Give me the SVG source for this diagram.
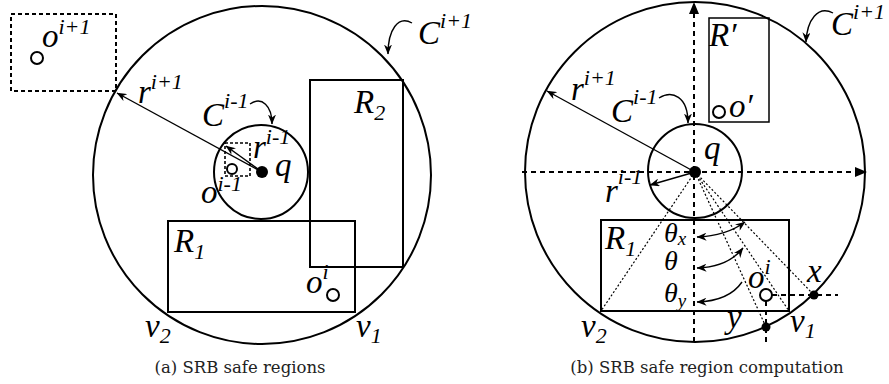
<svg xmlns="http://www.w3.org/2000/svg" width="889" height="384" viewBox="0 0 889 384">
<style>
.s{fill:none;stroke:#000;stroke-width:2}
.d{fill:none;stroke:#000;stroke-width:2;stroke-dasharray:4,3}
.ax{fill:none;stroke:#000;stroke-width:2;stroke-dasharray:5,4}
.dt{fill:none;stroke:#000;stroke-width:1.2;stroke-dasharray:2,2}
.a{fill:none;stroke:#000;stroke-width:1.4}
.p{fill:#fff;stroke:#000;stroke-width:2}
.f{fill:#000}
.l{font-family:"Liberation Serif",serif;font-style:italic;font-size:33px;fill:#000}
.th{font-size:28px}
.sm{font-size:22px}
.ss{font-size:19px}
.cap{font-family:"DejaVu Serif",serif;font-size:16.5px;fill:#222;text-anchor:middle}
</style>
<defs>
<marker id="ah" viewBox="0 0 10 8" refX="9.5" refY="4" markerWidth="10" markerHeight="8" markerUnits="userSpaceOnUse" orient="auto-start-reverse"><path d="M0,0 L10,4 L0,8 L3,4 Z" fill="#000"/></marker>
<marker id="axh" viewBox="0 0 12 10" refX="11" refY="5" markerWidth="12" markerHeight="10" markerUnits="userSpaceOnUse" orient="auto"><path d="M0,0 L12,5 L0,10 Z" fill="#000"/></marker>
</defs>

<!-- (a) -->
<g id="a-Cip1"><circle class="s" cx="262" cy="175" r="169"/></g>
<g id="a-Cim1"><circle class="s" cx="261" cy="172" r="47"/></g>
<g id="a-oip1-region"><rect class="d" x="11" y="14" width="105" height="77"/><circle class="p" cx="37" cy="58" r="6"/></g>
<g id="a-oim1-region"><rect class="d" style="stroke-width:1.6;stroke-dasharray:3,2" x="225" y="143" width="25" height="33"/><circle class="p" cx="232" cy="169" r="5"/></g>
<g id="a-R2"><rect class="s" x="310" y="80" width="93" height="187"/></g>
<g id="a-R1"><rect class="s" x="168" y="221" width="187" height="91"/></g>
<g id="a-oi"><circle class="p" cx="333" cy="295" r="6"/></g>
<g id="a-connectors">
<line class="a" x1="262" y1="172" x2="117" y2="93" marker-end="url(#ah)"/>
<line class="a" x1="262" y1="172" x2="226" y2="146" marker-end="url(#ah)"/>
<path class="a" d="M250,104 C262,96 272,106 272,124" marker-end="url(#ah)"/>
<path class="a" d="M412,23 C398,15 388,30 388,54" marker-end="url(#ah)"/>
</g>
<g id="a-q"><circle class="f" cx="262" cy="172" r="6"/></g>
<g id="a-labels">
<text class="l" x="42" y="47">o<tspan class="sm" dy="-13">i+1</tspan></text>
<text class="l" x="138" y="103">r<tspan class="sm" dy="-14">i+1</tspan></text>
<text class="l" x="202" y="126">C<tspan class="sm" dy="-18">i-1</tspan></text>
<text class="l" x="418" y="44">C<tspan class="sm" dy="-16">i+1</tspan></text>
<text class="l" x="253" y="158">r<tspan class="sm" dy="-14">i-1</tspan></text>
<text class="l" x="275" y="176">q</text>
<text class="l" x="201" y="203">o<tspan class="sm" dy="-12">i-1</tspan></text>
<text class="l" x="354" y="113">R<tspan class="sm" dy="7">2</tspan></text>
<text class="l" x="174" y="252">R<tspan class="sm" dy="7">1</tspan></text>
<text class="l" x="306" y="293">o<tspan class="sm" dy="-14">i</tspan></text>
<text class="l" x="145" y="337">v<tspan class="sm" dy="6">2</tspan></text>
<text class="l" x="356" y="337">v<tspan class="sm" dy="6">1</tspan></text>
</g>
<text class="cap" x="240" y="373">(a)  SRB safe regions</text>

<!-- (b) -->
<g id="b-Cip1"><circle class="s" cx="695" cy="172" r="170"/></g>
<g id="b-Cim1"><circle class="s" cx="695" cy="171" r="47"/></g>
<g id="b-axes">
<line class="ax" x1="522" y1="172" x2="866" y2="172" marker-end="url(#axh)"/>
<line class="ax" x1="694" y1="342" x2="694" y2="3" marker-end="url(#axh)"/>
</g>
<g id="b-Rp"><rect class="s" style="stroke-width:1.5" x="709" y="18" width="60" height="104"/><circle class="p" cx="719" cy="112" r="6"/></g>
<g id="b-R1"><rect class="s" x="601" y="220" width="188" height="91"/></g>
<g id="b-connectors">
<line class="dt" x1="695" y1="172" x2="601" y2="311"/>
<line class="dt" x1="695" y1="172" x2="766" y2="327"/>
<line class="dt" x1="695" y1="172" x2="789" y2="311"/>
<line class="dt" x1="695" y1="172" x2="814" y2="295"/>
<line class="ax" x1="772" y1="295" x2="838" y2="295"/>
<line class="ax" x1="766" y1="301" x2="766" y2="342"/>
<line class="a" x1="695" y1="172" x2="547" y2="91" marker-end="url(#ah)"/>
<line class="a" x1="695" y1="172" x2="650" y2="185" marker-end="url(#ah)"/>
<path class="a" d="M659,98 C672,90 688,96 688,123" marker-end="url(#ah)"/>
<path class="a" d="M833,13 C818,5 807,20 806,42" marker-end="url(#ah)"/>
<path class="a" d="M745,222 Q726,236 697,237" marker-start="url(#ah)" marker-end="url(#ah)"/>
<path class="a" d="M743,248 Q728,267 697,268" marker-start="url(#ah)" marker-end="url(#ah)"/>
<path class="a" d="M742,282 Q729,301 697,302" marker-end="url(#ah)"/>
</g>
<g id="b-oi"><circle class="p" cx="766" cy="295" r="6"/></g>
<g id="b-x"><circle class="f" cx="814" cy="295" r="4.5"/></g>
<g id="b-y"><circle class="f" cx="766" cy="327" r="4.5"/></g>
<g id="b-q"><circle class="f" cx="695" cy="172" r="6"/></g>
<g id="b-labels">
<text class="l" x="571" y="100">r<tspan class="sm" dy="-15">i+1</tspan></text>
<text class="l" x="611" y="122">C<tspan class="sm" dy="-18">i-1</tspan></text>
<text class="l" x="831" y="35">C<tspan class="sm" dy="-16">i+1</tspan></text>
<text class="l" x="709" y="46">R′</text>
<text class="l" x="729" y="117">o′</text>
<text class="l" x="704" y="159">q</text>
<text class="l" x="605" y="202">r<tspan class="sm" dy="-18">i-1</tspan></text>
<text class="l" x="605" y="249">R<tspan class="sm" dy="7">1</tspan></text>
<text class="l th" x="664" y="242">θ<tspan class="ss" dy="3">x</tspan></text>
<text class="l th" x="664" y="270">θ</text>
<text class="l th" x="664" y="302">θ<tspan class="ss" dy="5">y</tspan></text>
<text class="l" x="748" y="288">o<tspan class="sm" dy="-14">i</tspan></text>
<text class="l" x="807" y="282">x</text>
<text class="l" x="727" y="328">y</text>
<text class="l" x="790" y="332">v<tspan class="sm" dy="6">1</tspan></text>
<text class="l" x="581" y="337">v<tspan class="sm" dy="6">2</tspan></text>
</g>
<text class="cap" x="707" y="373">(b)  SRB safe region computation</text>
</svg>
